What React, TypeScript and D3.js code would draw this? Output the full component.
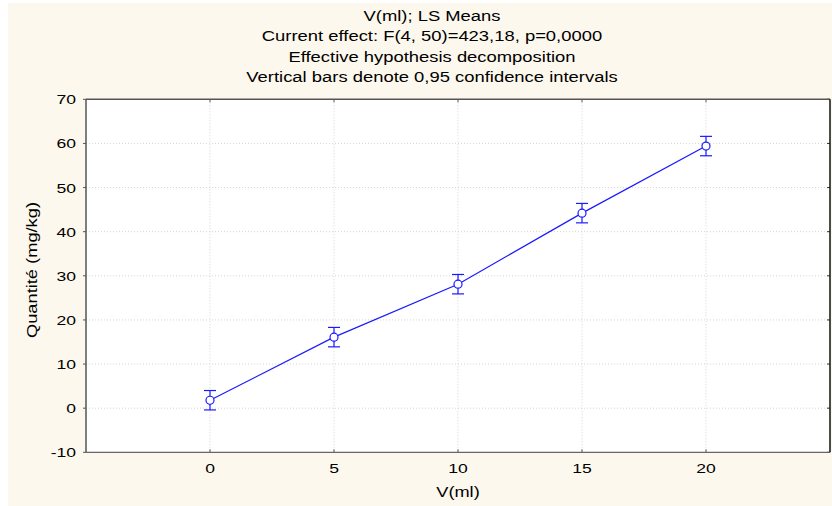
import React from "react";
import * as d3 from "d3";

const titleLines = [
  "V(ml); LS Means",
  "Current effect: F(4, 50)=423,18, p=0,0000",
  "Effective hypothesis decomposition",
  "Vertical bars denote 0,95 confidence intervals",
];
const xValues = [0, 5, 10, 15, 20];
const means = [1.8, 16.1, 28.1, 44.2, 59.4];
const lower = [-0.4, 13.9, 25.9, 42.0, 57.2];
const upper = [4.0, 18.3, 30.3, 46.4, 61.6];
const yTicks = [-10, 0, 10, 20, 30, 40, 50, 60, 70];
const xTicks = [0, 5, 10, 15, 20];
const xLabel = "V(ml)";
const yLabel = "Quantité (mg/kg)";

const W = 832;
const H = 506;
const left = 86;
const right = 830;
const top = 99.3;
const bottom = 452.3;
const SX = 1.3;
const FONT = "'Liberation Sans', Arial, sans-serif";
const BLUE = "#1a1aff";

export default function App() {
  const x = d3.scaleLinear().domain([-5, 25]).range([left, right]);
  const y = d3.scaleLinear().domain([-10, 70]).range([bottom, top]);
  const line = d3
    .line<number>()
    .x((_, i) => x(xValues[i]))
    .y((d) => y(d));

  return (
    <svg
      width={W}
      height={H}
      style={{ position: "absolute", left: 0, top: 0, background: "#fff" }}
    >
      <rect x={8} y={3} width={W - 8} height={H - 3} fill="#fdf8ee" />
      <rect x={left} y={top} width={right - left} height={bottom - top} fill="#fff" />
      {titleLines.map((t, i) => (
        <text
          key={i}
          transform={`translate(432,${21 + i * 20.4}) scale(1.27,1)`}
          textAnchor="middle"
          fontFamily={FONT}
          fontSize={14.5}
          fill="#000"
        >
          {t}
        </text>
      ))}
      {/* grid */}
      {yTicks
        .filter((t) => t > -10 && t < 70)
        .map((t) => (
          <line
            key={"gy" + t}
            x1={left}
            x2={right}
            y1={y(t)}
            y2={y(t)}
            stroke="#d4d4d4"
            strokeDasharray="1,2"
          />
        ))}
      {xTicks.map((t) => (
        <line
          key={"gx" + t}
          x1={x(t)}
          x2={x(t)}
          y1={top}
          y2={bottom}
          stroke="#d4d4d4"
          strokeDasharray="1,2"
        />
      ))}
      {/* ticks */}
      {yTicks.map((t) => (
        <g key={"ty" + t}>
          <line x1={left - 3} x2={left} y1={y(t)} y2={y(t)} stroke="#555" />
          <line x1={right - 3} x2={right} y1={y(t)} y2={y(t)} stroke="#333" />
          <text
            transform={`translate(76,${y(t) + 5}) scale(${SX},1)`}
            textAnchor="end"
            fontFamily={FONT}
            fontSize={13.5}
            fill="#000"
          >
            {t}
          </text>
        </g>
      ))}
      {xTicks.map((t) => (
        <g key={"tx" + t}>
          <line x1={x(t)} x2={x(t)} y1={bottom - 3} y2={bottom} stroke="#555" />
          <line x1={x(t)} x2={x(t)} y1={top} y2={top + 3} stroke="#555" />
          <text
            transform={`translate(${x(t)},${473}) scale(${SX},1)`}
            textAnchor="middle"
            fontFamily={FONT}
            fontSize={13.5}
            fill="#000"
          >
            {t}
          </text>
        </g>
      ))}
      {/* frame */}
      <line x1={left} x2={right} y1={top} y2={top} stroke="#555" strokeWidth={1.5} />
      <line x1={left} x2={left} y1={top} y2={bottom} stroke="#555" strokeWidth={1.5} />
      <line x1={left} x2={right} y1={bottom} y2={bottom} stroke="#666" strokeWidth={1.2} />
      <line x1={right} x2={right} y1={top} y2={bottom} stroke="#111" strokeWidth={1.5} />
      {/* axis labels */}
      <text
        transform={`translate(${(left + right) / 2},497) scale(${SX},1)`}
        textAnchor="middle"
        fontFamily={FONT}
        fontSize={14}
        fill="#000"
      >
        {xLabel}
      </text>
      <text
        transform={`translate(37,270) rotate(-90) scale(1,1)`}
        textAnchor="middle"
        fontFamily={FONT}
        fontSize={14.5}
        textLength={136}
        lengthAdjust="spacingAndGlyphs"
        fill="#000"
      >
        {yLabel}
      </text>
      {/* series */}
      <path d={line(means) || ""} fill="none" stroke={BLUE} strokeWidth={1.2} />
      {xValues.map((xv, i) => (
        <g key={"p" + i} stroke={BLUE} strokeWidth={1.2}>
          <line x1={x(xv)} x2={x(xv)} y1={y(upper[i])} y2={y(lower[i])} />
          <line x1={x(xv) - 6} x2={x(xv) + 6} y1={y(upper[i])} y2={y(upper[i])} />
          <line x1={x(xv) - 6} x2={x(xv) + 6} y1={y(lower[i])} y2={y(lower[i])} />
          <circle cx={x(xv)} cy={y(means[i])} r={4} fill="#fff" />
        </g>
      ))}
    </svg>
  );
}
